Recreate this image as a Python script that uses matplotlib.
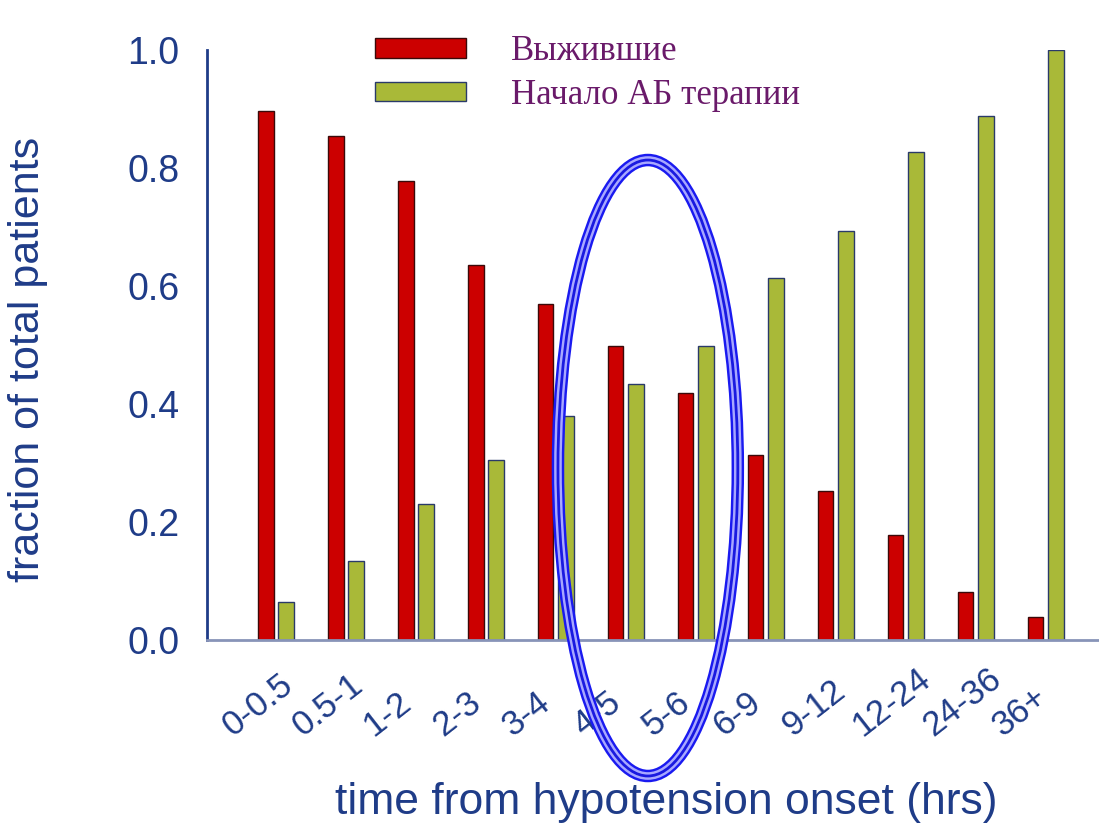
import matplotlib.pyplot as plt
import matplotlib.transforms as mtransforms
from matplotlib.patches import Ellipse
import numpy as np

plt.rcParams['font.family'] = ['Liberation Sans', 'DejaVu Sans']

# data
categories = ["0-0.5", "0.5-1", "1-2", "2-3", "3-4", "4-5", "5-6",
              "6-9", "9-12", "12-24", "24-36", "36+"]
survived = [0.897, 0.854, 0.778, 0.636, 0.569, 0.498, 0.419,
            0.314, 0.253, 0.178, 0.081, 0.039]
ab_start = [0.064, 0.134, 0.231, 0.305, 0.380, 0.434, 0.498,
            0.614, 0.693, 0.827, 0.888, 1.0]
labels = ["Выжившие", "Начало АБ терапии"]

navy = "#1F3C88"
red = "#CC0000"
green = "#A9B938"

fig = plt.figure(figsize=(10.99, 8.24), dpi=100)
ax = fig.add_axes([207 / 1099, 1 - 640 / 824, 892 / 1099, 590 / 824])

x = np.arange(len(categories))
w = 0.22
off = 0.145
ax.bar(x - off, survived, w, color=red, edgecolor="#3A0A0A", linewidth=1,
       label=labels[0], zorder=2)
ax.bar(x + off, ab_start, w, color=green, edgecolor="#2A3A6A", linewidth=1,
       label=labels[1], zorder=2)

ax.set_xlim(-0.986, 11.76)
ax.set_ylim(0, 1.0)

ax.set_yticks(np.arange(0, 1.01, 0.2))
ax.set_yticklabels([f"{v:.1f}" for v in np.arange(0, 1.01, 0.2)])
ax.tick_params(axis="y", length=0, pad=20, labelsize=27, labelcolor=navy)

# x tick labels: rotated, anchored at their lower-left start
ax.set_xticks(x)
ax.set_xticklabels(categories)
ax.tick_params(axis="x", length=0, pad=70, labelsize=25, labelcolor=navy)
shift = mtransforms.ScaledTranslation(-0.43, 0, fig.dpi_scale_trans)
for lbl in ax.get_xticklabels():
    lbl.set_rotation(38)
    lbl.set_rotation_mode("anchor")
    lbl.set_ha("left")
    lbl.set_va("baseline")
    lbl.set_transform(lbl.get_transform() + shift)

for s in ["top", "right"]:
    ax.spines[s].set_visible(False)
ax.spines["left"].set_color(navy)
ax.spines["left"].set_linewidth(2)
ax.spines["bottom"].set_color("#8894B8")
ax.spines["bottom"].set_linewidth(2)

ax.set_ylabel("fraction of total patients", fontsize=31, color=navy)
ax.yaxis.set_label_coords(-0.178, 0.475)
ax.set_xlabel("time from hypotension onset (hrs)", fontsize=32, color=navy)
ax.xaxis.set_label_coords(0.515, -0.24)

# highlight ellipse (triple line)
for lw, col in [(9, "#1A1AF0"), (5.5, "#A8A8FF"), (2, "#1A1AE0")]:
    ax.add_patch(Ellipse((5.314, 0.2915), 2.57, 1.044, fill=False,
                         edgecolor=col, linewidth=lw, clip_on=False, zorder=5))

ax.legend(loc="upper left", bbox_to_anchor=(358 / 1099, 1 - 18 / 824),
          bbox_transform=fig.transFigure, frameon=False, borderpad=0,
          handlelength=2.6, handleheight=0.5, handletextpad=1.3,
          labelspacing=0.3, labelcolor="#6A1A6A",
          prop={"family": ["Liberation Serif", "DejaVu Serif"], "size": 25})

fig.savefig("out.png", dpi=100)
